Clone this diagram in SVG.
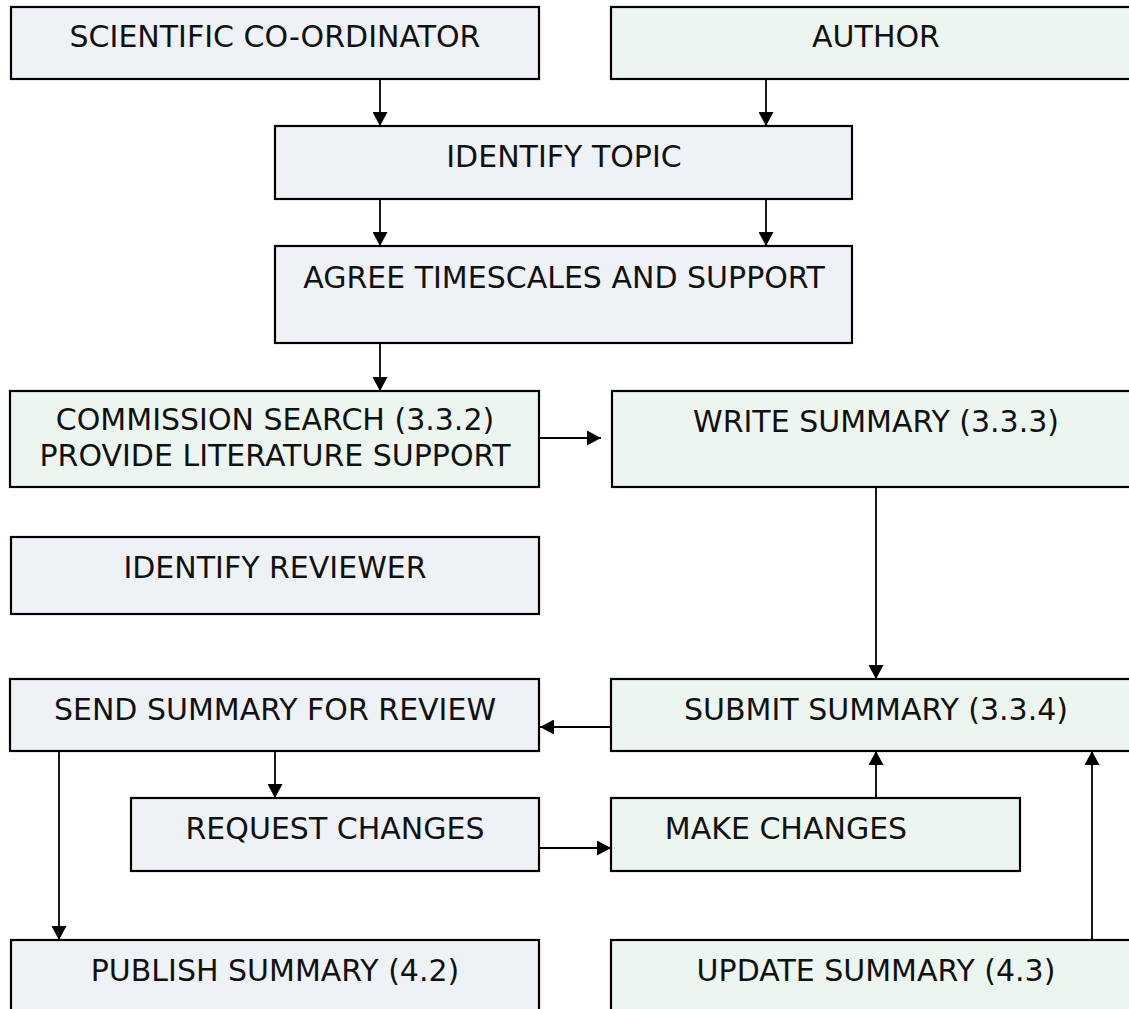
<svg xmlns="http://www.w3.org/2000/svg" width="1129" height="1009" viewBox="0 0 1129 1009">
<style>
.b{fill:#EEF2F7;stroke:#000;stroke-width:2.2}
.g{fill:#EDF5F0;stroke:#000;stroke-width:2.2}
text{font-family:"DejaVu Sans",Verdana,sans-serif;font-size:30px;fill:#111;text-anchor:middle}
.c{stroke:#000;stroke-width:1.8;fill:none}
</style>
<defs>
<marker id="ah" markerUnits="userSpaceOnUse" markerWidth="15" markerHeight="15" refX="14" refY="7.5" orient="auto">
<path d="M0,0 L14,7.5 L0,15 z" fill="#000"/>
</marker>
</defs>
<rect width="1129" height="1009" fill="#fff"/>
<g id="connectors">
<line class="c" x1="380" y1="79" x2="380" y2="126" marker-end="url(#ah)"/>
<line class="c" x1="766" y1="79" x2="766" y2="126" marker-end="url(#ah)"/>
<line class="c" x1="380" y1="199" x2="380" y2="246" marker-end="url(#ah)"/>
<line class="c" x1="766" y1="199" x2="766" y2="246" marker-end="url(#ah)"/>
<line class="c" x1="380" y1="343" x2="380" y2="391" marker-end="url(#ah)"/>
<line class="c" x1="539" y1="438" x2="601" y2="438" marker-end="url(#ah)"/>
<line class="c" x1="876" y1="487" x2="876" y2="679" marker-end="url(#ah)"/>
<line class="c" x1="611" y1="727" x2="540" y2="727" marker-end="url(#ah)"/>
<line class="c" x1="275" y1="751" x2="275" y2="798" marker-end="url(#ah)"/>
<line class="c" x1="59" y1="751" x2="59" y2="940" marker-end="url(#ah)"/>
<line class="c" x1="539" y1="848" x2="611" y2="848" marker-end="url(#ah)"/>
<line class="c" x1="876" y1="798" x2="876" y2="751" marker-end="url(#ah)"/>
<line class="c" x1="1092" y1="940" x2="1092" y2="751" marker-end="url(#ah)"/>
</g>
<g id="n-coordinator"><rect class="b" x="11" y="7" width="528" height="72"/><text x="275" y="47">SCIENTIFIC CO-ORDINATOR</text></g>
<g id="n-author"><rect class="g" x="611" y="7" width="529" height="72"/><text x="876" y="47">AUTHOR</text></g>
<g id="n-identify-topic"><rect class="b" x="275" y="126" width="577" height="73"/><text x="564" y="167">IDENTIFY TOPIC</text></g>
<g id="n-agree"><rect class="b" x="275" y="246" width="577" height="97"/><text x="564" y="288">AGREE TIMESCALES AND SUPPORT</text></g>
<g id="n-commission"><rect class="g" x="10" y="391" width="529" height="96"/><text x="275" y="430">COMMISSION SEARCH (3.3.2)</text><text x="275" y="466">PROVIDE LITERATURE SUPPORT</text></g>
<g id="n-write"><rect class="g" x="612" y="391" width="528" height="96"/><text x="876" y="432">WRITE SUMMARY (3.3.3)</text></g>
<g id="n-reviewer"><rect class="b" x="11" y="537" width="528" height="77"/><text x="275" y="578">IDENTIFY REVIEWER</text></g>
<g id="n-send"><rect class="b" x="10" y="679" width="529" height="72"/><text x="275" y="720">SEND SUMMARY FOR REVIEW</text></g>
<g id="n-submit"><rect class="g" x="611" y="679" width="529" height="72"/><text x="876" y="720">SUBMIT SUMMARY (3.3.4)</text></g>
<g id="n-request"><rect class="b" x="131" y="798" width="408" height="73"/><text x="335" y="839">REQUEST CHANGES</text></g>
<g id="n-make"><rect class="g" x="611" y="798" width="409" height="73"/><text x="786" y="839">MAKE CHANGES</text></g>
<g id="n-publish"><rect class="b" x="11" y="940" width="528" height="80"/><text x="275" y="981">PUBLISH SUMMARY (4.2)</text></g>
<g id="n-update"><rect class="g" x="611" y="940" width="529" height="80"/><text x="876" y="981">UPDATE SUMMARY (4.3)</text></g>
</svg>
